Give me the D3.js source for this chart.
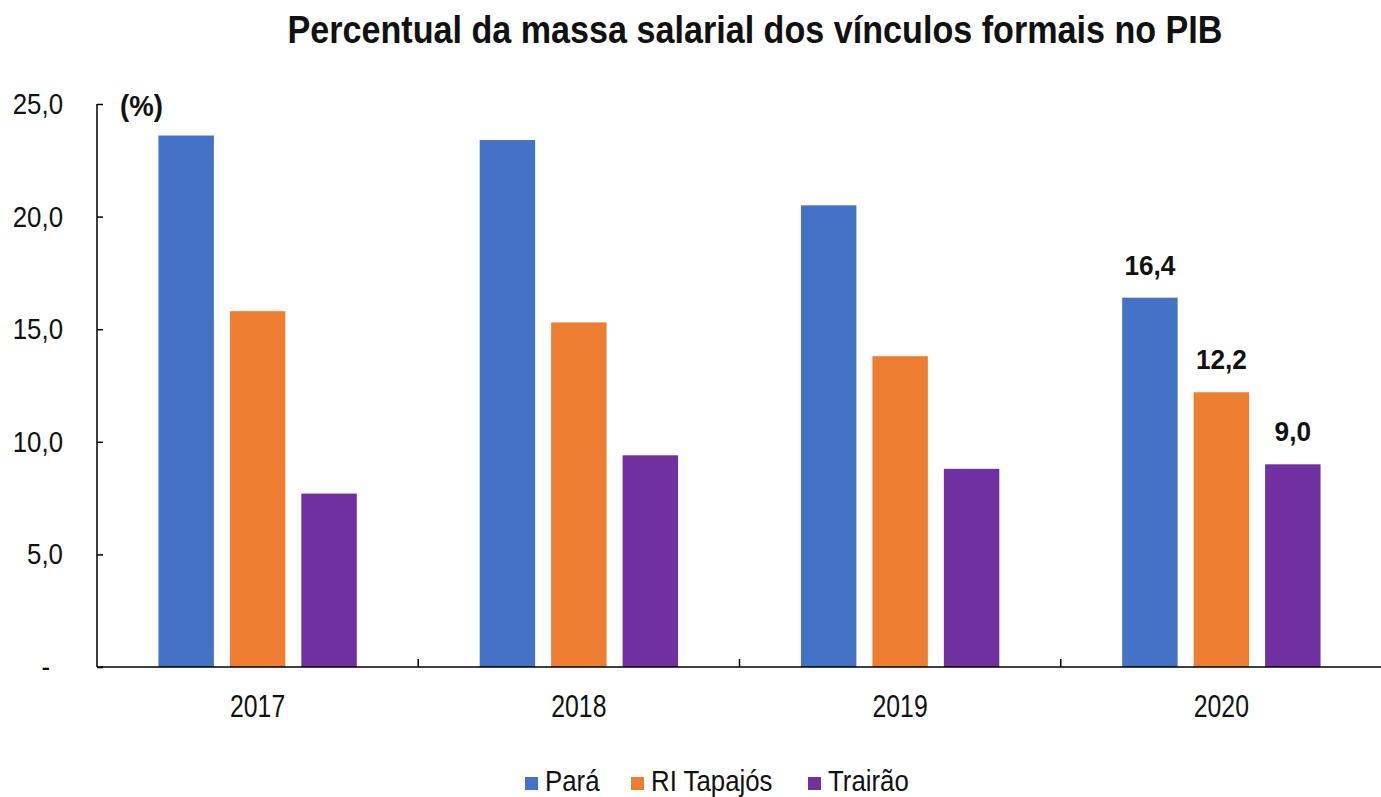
<!DOCTYPE html>
<html>
<head>
<meta charset="utf-8">
<script src="https://cdn.jsdelivr.net/npm/d3@7"></script>
<style>
  body { margin: 0; background: #fff; }
  text { font-family: "Liberation Sans", Arial, sans-serif; fill: #111; }
</style>
</head>
<body>
<svg id="chart"></svg>
<script>
var years = ['2017', '2018', '2019', '2020'];
var seriesNames = ['Pará', 'RI Tapajós', 'Trairão'];
var seriesColors = ['#4472C4', '#ED7D31', '#7030A0'];
var para = [23.6, 23.4, 20.5, 16.4];
var riTapajos = [15.8, 15.3, 13.8, 12.2];
var trairao = [7.7, 9.4, 8.8, 9.0];
var yTicks = [0, 5, 10, 15, 20, 25];
var labelledYear = '2020';

var width = 1381,
    height = 797;

var svg = d3.select('#chart')
    .attr('width', width)
    .attr('height', height);

var seriesValues = [para, riTapajos, trairao];
var rows = [];
years.forEach(function(y, i) {
   seriesNames.forEach(function(s, j) {
      rows.push({ year: y, series: s, value: seriesValues[j][i], color: seriesColors[j] });
   });
});

var x0 = d3.scaleBand().domain(years).range([97, 1382]).paddingInner(0).paddingOuter(0);
var x1 = d3.scaleBand().domain(seriesNames).range([0, x0.bandwidth()])
    .paddingInner(0.224).paddingOuter(0.86);
var y = d3.scaleLinear().domain([0, 25]).range([667, 104]);

function fmt(v) { return v === 0 ? '-' : d3.format('.1f')(v).replace('.', ','); }

// narrow-font look: squeeze glyphs horizontally
function squeeze(sel, k) {
   sel.each(function() {
      var w = this.getComputedTextLength();
      d3.select(this).attr('textLength', w * k).attr('lengthAdjust', 'spacingAndGlyphs');
   });
}

// title
svg.append('text')
   .attr('x', 755)
   .attr('y', 43)
   .attr('text-anchor', 'middle')
   .style('font-size', '39px')
   .style('font-weight', 'bold')
   .text('Percentual da massa salarial dos vínculos formais no PIB')
   .call(squeeze, 0.875);

// bars
svg.append('g').selectAll('rect')
   .data(rows)
   .join('rect')
   .attr('x', function(d) { return x0(d.year) + x1(d.series); })
   .attr('y', function(d) { return y(d.value); })
   .attr('width', x1.bandwidth())
   .attr('height', function(d) { return y(0) - y(d.value); })
   .attr('fill', function(d) { return d.color; });

// value labels (only last year)
svg.append('g').selectAll('text')
   .data(rows.filter(function(d) { return d.year === labelledYear; }))
   .join('text')
   .attr('x', function(d) { return x0(d.year) + x1(d.series) + x1.bandwidth() / 2; })
   .attr('y', function(d) { return y(d.value) - 23; })
   .attr('text-anchor', 'middle')
   .style('font-size', '27px')
   .style('font-weight', 'bold')
   .text(function(d) { return fmt(d.value); })
   .call(squeeze, 0.97);

// y axis
var yAxis = svg.append('g')
   .attr('transform', 'translate(97,0)')
   .call(d3.axisRight(y).tickValues(yTicks).tickSize(6).tickFormat(''));
yAxis.select('.domain').attr('stroke', '#000').attr('stroke-width', 1.5).attr('d', 'M0,' + y(25) + 'V' + y(0));
yAxis.selectAll('.tick line').attr('stroke', '#000').attr('stroke-width', 1.5);

// excel-style accounting labels: the zero dash sits left of the numbers' right edge
svg.append('g').selectAll('text')
   .data(yTicks)
   .join('text')
   .attr('x', function(d) { return d === 0 ? 50 : 63; })
   .attr('y', function(d) { return y(d) + 10; })
   .attr('text-anchor', 'end')
   .style('font-size', '29px')
   .text(fmt)
   .call(squeeze, 0.89);

// x axis
var xAxis = svg.append('g')
   .attr('transform', 'translate(0,' + y(0) + ')')
   .call(d3.axisBottom(x0).tickSize(0).tickFormat(''));
xAxis.select('.domain').attr('stroke', '#000').attr('stroke-width', 1.5).attr('d', 'M97,0H1381');
xAxis.selectAll('.tick').remove();

svg.append('g').selectAll('line')
   .data(years.slice(1))
   .join('line')
   .attr('x1', function(d) { return x0(d); })
   .attr('x2', function(d) { return x0(d); })
   .attr('y1', y(0))
   .attr('y2', y(0) - 8)
   .attr('stroke', '#000')
   .attr('stroke-width', 1.5);

svg.append('g').selectAll('text')
   .data(years)
   .join('text')
   .attr('x', function(d) { return x0(d) + x0.bandwidth() / 2; })
   .attr('y', 717)
   .attr('text-anchor', 'middle')
   .style('font-size', '31px')
   .text(function(d) { return d; })
   .call(squeeze, 0.8);

// unit label
svg.append('text')
   .attr('x', 120)
   .attr('y', 116)
   .style('font-size', '29px')
   .style('font-weight', 'bold')
   .text('(%)')
   .call(squeeze, 0.95);

// legend
var legendX = [525, 631, 808];
var legend = svg.append('g').selectAll('g')
   .data(seriesNames)
   .join('g')
   .attr('transform', function(d, i) { return 'translate(' + legendX[i] + ',791)'; });
legend.append('rect')
   .attr('x', 0).attr('y', -14)
   .attr('width', 13).attr('height', 13)
   .attr('fill', function(d, i) { return seriesColors[i]; });
legend.append('text')
   .attr('x', 20)
   .attr('y', 0)
   .style('font-size', '29px')
   .text(function(d) { return d; })
   .call(squeeze, 0.89);
</script>
</body>
</html>
